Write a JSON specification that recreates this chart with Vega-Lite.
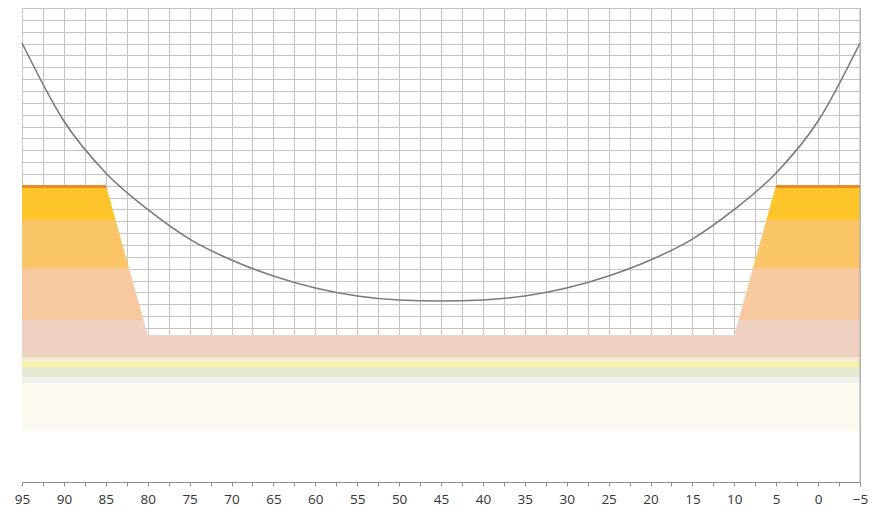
{
  "$schema": "https://vega.github.io/schema/vega-lite/v6.json",
  "width": 838,
  "height": 474,
  "autosize": {"type": "none"},
  "padding": {"left": 22, "top": 8, "right": 14, "bottom": 27},
  "background": "white",
  "config": {"view": {"stroke": null}},
  "datasets": {
    "bands": [
      {"layer": "white", "x": -5, "x2": 95, "lo": 0, "hi": 12.4},
      {"layer": "cream", "x": -5, "x2": 95, "lo": 4.3, "hi": 8.35},
      {"layer": "gray", "x": -5, "x2": 95, "lo": 8.35, "hi": 8.85},
      {"layer": "green", "x": -5, "x2": 95, "lo": 8.85, "hi": 9.7},
      {"layer": "yellow", "x": -5, "x2": 95, "lo": 9.7, "hi": 10.15},
      {"layer": "paleyellow", "x": -5, "x2": 95, "lo": 10.15, "hi": 10.55},
      {"layer": "pink", "x": -5, "x2": 95, "lo": 10.55, "hi": 12.4}
    ],
    "trap": [
      {"band": "L-line", "layer": "line", "x": 95, "top": 25.06, "bot": 24.8},
      {"band": "L-line", "layer": "line", "x": 85, "top": 25.06, "bot": 24.8},
      {"band": "L-line", "layer": "line", "x": 84.9, "top": 24.8, "bot": 24.8},
      {"band": "L-gold", "layer": "gold", "x": 95, "top": 24.8, "bot": 22.1},
      {"band": "L-gold", "layer": "gold", "x": 84.9, "top": 24.8, "bot": 22.1},
      {"band": "L-gold", "layer": "gold", "x": 83.83, "top": 22.1, "bot": 22.1},
      {"band": "L-lo", "layer": "lightorange", "x": 95, "top": 22.1, "bot": 18.05},
      {"band": "L-lo", "layer": "lightorange", "x": 83.83, "top": 22.1, "bot": 18.05},
      {"band": "L-lo", "layer": "lightorange", "x": 82.23, "top": 18.05, "bot": 18.05},
      {"band": "L-peach", "layer": "peach", "x": 95, "top": 18.05, "bot": 13.67},
      {"band": "L-peach", "layer": "peach", "x": 82.23, "top": 18.05, "bot": 13.67},
      {"band": "L-peach", "layer": "peach", "x": 80.5, "top": 13.67, "bot": 13.67},
      {"band": "L-pink", "layer": "pink", "x": 95, "top": 13.67, "bot": 12.35},
      {"band": "L-pink", "layer": "pink", "x": 80.5, "top": 13.67, "bot": 12.35},
      {"band": "L-pink", "layer": "pink", "x": 80, "top": 12.4, "bot": 12.35},
      {"band": "R-line", "layer": "line", "x": -5, "top": 25.06, "bot": 24.8},
      {"band": "R-line", "layer": "line", "x": 5, "top": 25.06, "bot": 24.8},
      {"band": "R-line", "layer": "line", "x": 5.1, "top": 24.8, "bot": 24.8},
      {"band": "R-gold", "layer": "gold", "x": -5, "top": 24.8, "bot": 22.1},
      {"band": "R-gold", "layer": "gold", "x": 5.1, "top": 24.8, "bot": 22.1},
      {"band": "R-gold", "layer": "gold", "x": 6.17, "top": 22.1, "bot": 22.1},
      {"band": "R-lo", "layer": "lightorange", "x": -5, "top": 22.1, "bot": 18.05},
      {"band": "R-lo", "layer": "lightorange", "x": 6.17, "top": 22.1, "bot": 18.05},
      {"band": "R-lo", "layer": "lightorange", "x": 7.77, "top": 18.05, "bot": 18.05},
      {"band": "R-peach", "layer": "peach", "x": -5, "top": 18.05, "bot": 13.67},
      {"band": "R-peach", "layer": "peach", "x": 7.77, "top": 18.05, "bot": 13.67},
      {"band": "R-peach", "layer": "peach", "x": 9.5, "top": 13.67, "bot": 13.67},
      {"band": "R-pink", "layer": "pink", "x": -5, "top": 13.67, "bot": 12.35},
      {"band": "R-pink", "layer": "pink", "x": 9.5, "top": 13.67, "bot": 12.35},
      {"band": "R-pink", "layer": "pink", "x": 10, "top": 12.4, "bot": 12.35}
    ],
    "curve": [
      {"x": 95, "y": 37.05}, {"x": 90, "y": 30.46}, {"x": 85, "y": 26.08},
      {"x": 80, "y": 23.0}, {"x": 75, "y": 20.5}, {"x": 70, "y": 18.73},
      {"x": 65, "y": 17.38}, {"x": 60, "y": 16.37}, {"x": 55, "y": 15.7},
      {"x": 50, "y": 15.36}, {"x": 45, "y": 15.27}, {"x": 40, "y": 15.36},
      {"x": 35, "y": 15.7}, {"x": 30, "y": 16.37}, {"x": 25, "y": 17.38},
      {"x": 20, "y": 18.73}, {"x": 15, "y": 20.5}, {"x": 10, "y": 23.0},
      {"x": 5, "y": 26.08}, {"x": 0, "y": 30.46}, {"x": -5, "y": 37.05}
    ],
    "frame": [{"x": -5, "lo": 0, "hi": 40}]
  },
  "encoding": {
    "x": {
      "field": "x", "type": "quantitative",
      "scale": {"domain": [-5, 95], "reverse": true, "nice": false, "zero": false},
      "axis": {
        "title": null,
        "values": [-5, -2.5, 0, 2.5, 5, 7.5, 10, 12.5, 15, 17.5, 20, 22.5, 25, 27.5, 30, 32.5, 35, 37.5, 40, 42.5, 45, 47.5, 50, 52.5, 55, 57.5, 60, 62.5, 65, 67.5, 70, 72.5, 75, 77.5, 80, 82.5, 85, 87.5, 90, 92.5, 95],
        "labelExpr": "datum.value % 5 == 0 ? datum.label : ''",
        "grid": true, "gridColor": "#C4C4C4", "gridWidth": 1,
        "domainColor": "#8C8C8C", "tickColor": "#8C8C8C", "tickSize": 4,
        "labelPadding": 6, "labelFont": "Open Sans", "labelFontSize": 13.5,
        "labelColor": "#333333", "labelFlush": false, "labelOverlap": false
      }
    }
  },
  "layer": [
    {
      "data": {"name": "bands"},
      "mark": {"type": "rect"},
      "encoding": {
        "x2": {"field": "x2"},
        "y": {
          "field": "lo", "type": "quantitative",
          "scale": {"domain": [0, 40], "nice": false, "zero": false},
          "axis": {
            "title": null, "labels": false, "ticks": false, "domain": false,
            "grid": true, "gridColor": "#C4C4C4", "gridWidth": 1,
            "values": [0,1,2,3,4,5,6,7,8,9,10,11,12,13,14,15,16,17,18,19,20,21,22,23,24,25,26,27,28,29,30,31,32,33,34,35,36,37,38,39,40]
          }
        },
        "y2": {"field": "hi"},
        "color": {
          "field": "layer", "type": "nominal", "legend": null,
          "scale": {
            "domain": ["white", "cream", "gray", "green", "yellow", "paleyellow", "pink", "line", "gold", "lightorange", "peach"],
            "range": ["#FFFFFF", "#FCFAF0", "#EFEFEC", "#E8E9D3", "#F7F3A6", "#F3EBCF", "#EFD1C1", "#EE8A22", "#FDC52B", "#FAC566", "#F8C89E"]
          }
        }
      }
    },
    {
      "data": {"name": "trap"},
      "mark": {"type": "area", "interpolate": "linear"},
      "encoding": {
        "y": {
          "field": "top", "type": "quantitative", "stack": null,
          "axis": {
            "title": null, "labels": false, "ticks": false, "domain": false,
            "grid": true, "gridColor": "#C4C4C4", "gridWidth": 1,
            "values": [0,1,2,3,4,5,6,7,8,9,10,11,12,13,14,15,16,17,18,19,20,21,22,23,24,25,26,27,28,29,30,31,32,33,34,35,36,37,38,39,40]
          }
        },
        "y2": {"field": "bot"},
        "detail": {"field": "band"},
        "color": {"field": "layer", "type": "nominal", "legend": null}
      }
    },
    {
      "data": {"name": "curve"},
      "mark": {"type": "line", "interpolate": "monotone", "color": "#7A7A7A", "strokeWidth": 1.6},
      "encoding": {
        "y": {
          "field": "y", "type": "quantitative",
          "axis": {
            "title": null, "labels": false, "ticks": false, "domain": false,
            "grid": true, "gridColor": "#C4C4C4", "gridWidth": 1,
            "values": [0,1,2,3,4,5,6,7,8,9,10,11,12,13,14,15,16,17,18,19,20,21,22,23,24,25,26,27,28,29,30,31,32,33,34,35,36,37,38,39,40]
          }
        }
      }
    },
    {
      "data": {"name": "frame"},
      "mark": {"type": "rule", "color": "#A8A8A8", "strokeWidth": 1},
      "encoding": {
        "y": {
          "field": "lo", "type": "quantitative",
          "axis": {
            "title": null, "labels": false, "ticks": false, "domain": false,
            "grid": true, "gridColor": "#C4C4C4", "gridWidth": 1,
            "values": [0,1,2,3,4,5,6,7,8,9,10,11,12,13,14,15,16,17,18,19,20,21,22,23,24,25,26,27,28,29,30,31,32,33,34,35,36,37,38,39,40]
          }
        },
        "y2": {"field": "hi"}
      }
    }
  ]
}
